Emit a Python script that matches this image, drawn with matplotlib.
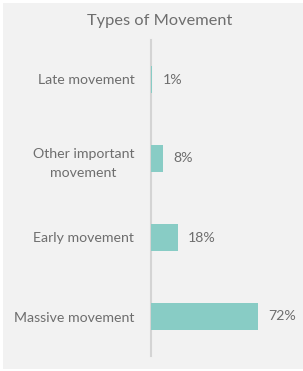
import matplotlib
matplotlib.use("Agg")
import matplotlib.pyplot as plt
from matplotlib.patches import Rectangle

categories = ["Late movement", "Other important\nmovement", "Early movement", "Massive movement"]
values = [1, 8, 18, 72]
value_labels = ["1%", "8%", "18%", "72%"]
title = "Types of Movement"

W, H = 303, 371
fig = plt.figure(figsize=(W / 100, H / 100), dpi=100)
fig.patch.set_facecolor("white")
fig.patches.append(Rectangle((3 / W, 2 / H), 300 / W, 366 / H, transform=fig.transFigure,
                             facecolor="#f2f2f2", edgecolor="none", zorder=-5))

ax_left, ax_right = 151, 300
ax_top, ax_bot = 40, 356
ax = fig.add_axes([ax_left / W, 1 - ax_bot / H, (ax_right - ax_left) / W, (ax_bot - ax_top) / H])
ax.set_facecolor("none")
ax.set_zorder(2)

ypos = list(range(len(categories)))
ax.barh(ypos, values, height=0.35, color="#88ccc5", edgecolor="none", zorder=3)
ax.set_ylim(len(categories) - 0.5, -0.5)
px_per_unit = 1.49
ax.set_xlim(0, (ax_right - ax_left) / px_per_unit)

txt_color = "#6e6e6e"
font = "Lato"
fs = 10.2
for y, v, lab in zip(ypos, values, value_labels):
    ax.annotate(lab, (v, y), xytext=(7.5, 0), textcoords="offset points", va="center", ha="left",
                fontsize=fs, color=txt_color, family=font,
                annotation_clip=False)

ax.set_yticks(ypos)
ax.set_yticklabels(categories, fontsize=fs, color=txt_color, family=font,
                   linespacing=1.75)
for t in ax.get_yticklabels():
    t.set_horizontalalignment("right")
    t.set_multialignment("center")
ax.tick_params(axis="y", length=0, pad=12)
ax.set_xticks([])
for s in ["top", "right", "bottom"]:
    ax.spines[s].set_visible(False)
ax.spines["left"].set_color("#d4d4d4")
ax.spines["left"].set_linewidth(1.5)

fig.text(160 / W, 1 - 21 / H, title, ha="center", va="center", fontsize=11.8, color=txt_color,
         family=font)

fig.savefig("out.png", dpi=100, facecolor=fig.get_facecolor())
